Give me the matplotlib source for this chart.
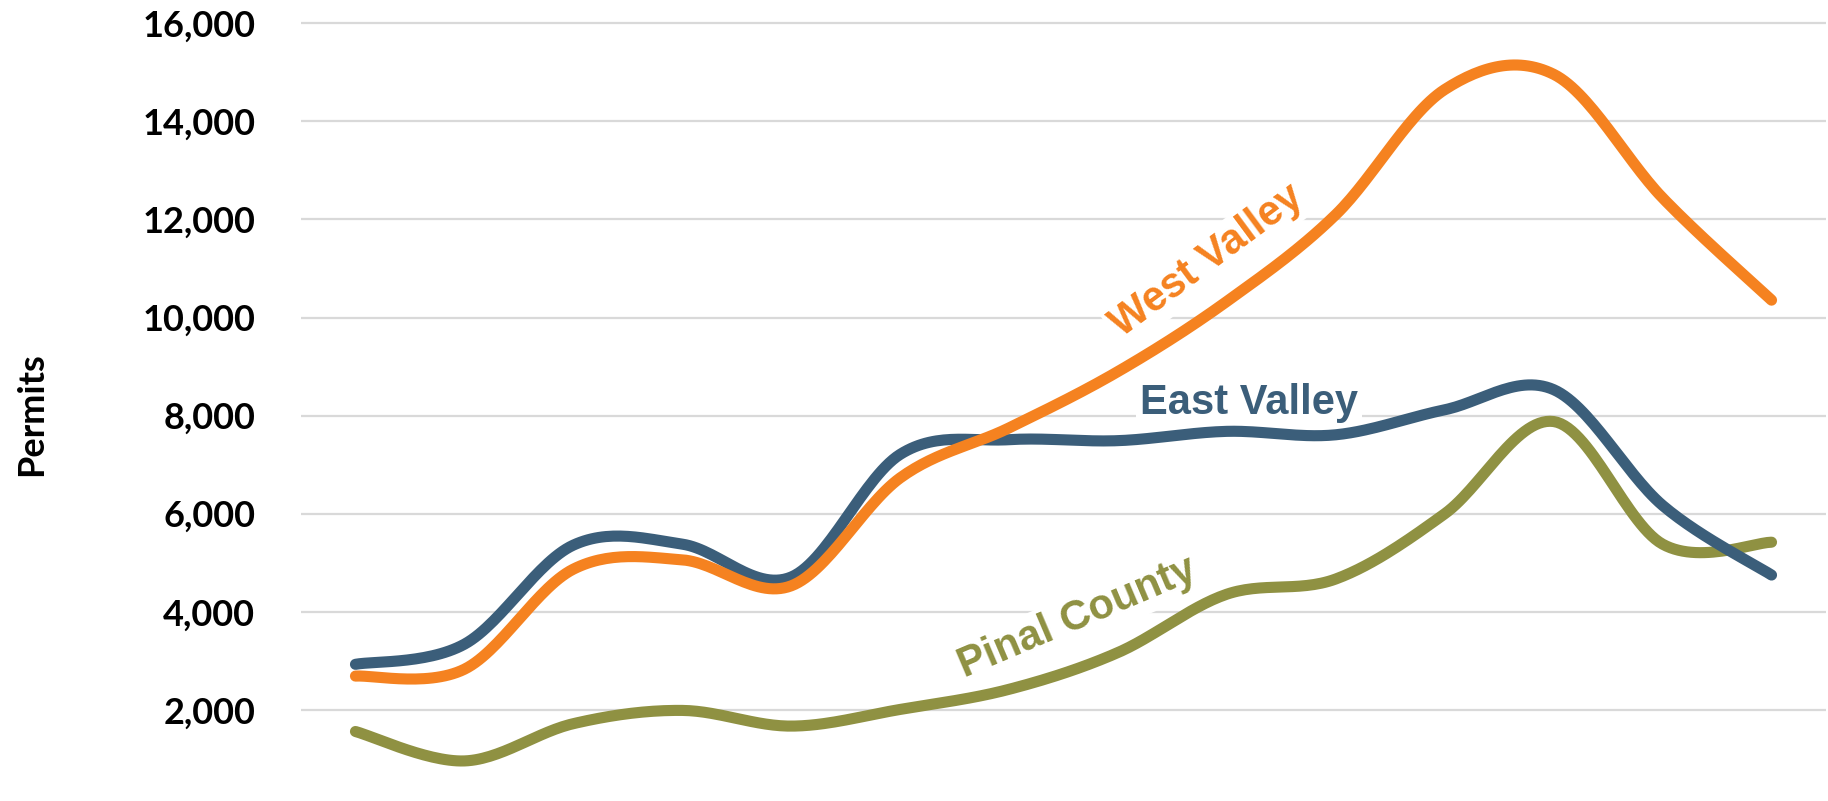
import numpy as np
import matplotlib
matplotlib.use("Agg")
import matplotlib.pyplot as plt
from matplotlib.ticker import FuncFormatter

# building permits by region (no x labels shown)
east_valley = [2930, 3340, 5360, 5380, 4710, 7210, 7510, 7490, 7680, 7610, 8120, 8530, 6170, 4750]
west_valley = [2690, 2830, 4870, 5060, 4530, 6730, 7750, 8900, 10330, 12100, 14650, 14960, 12440, 10355]
pinal_county = [1560, 960, 1720, 1990, 1670, 2010, 2420, 3170, 4360, 4670, 6000, 7880, 5380, 5420]

y_ticks = [2000, 4000, 6000, 8000, 10000, 12000, 14000, 16000]

BLUE = "#3b5e7a"
ORANGE = "#f58220"
OLIVE = "#8f9142"
GRID = "#d9d9d9"


def smooth(y, n=30):
    """Excel-style smoothed line (Catmull-Rom bezier through every point)."""
    y = np.asarray(y, dtype=float)
    x = np.arange(len(y), dtype=float)
    pts = np.column_stack([x, y])
    ext = np.vstack([pts[0], pts, pts[-1]])
    out = []
    for i in range(len(pts) - 1):
        p0, p1, p2, p3 = ext[i], ext[i + 1], ext[i + 2], ext[i + 3]
        c1 = p1 + (p2 - p0) / 6.0
        c2 = p2 - (p3 - p1) / 6.0
        t = np.linspace(0, 1, n, endpoint=(i == len(pts) - 2))[:, None]
        seg = ((1 - t) ** 3) * p1 + 3 * ((1 - t) ** 2) * t * c1 + 3 * (1 - t) * t ** 2 * c2 + t ** 3 * p2
        out.append(seg)
    out = np.vstack(out)
    return out[:, 0], out[:, 1]


fig = plt.figure(figsize=(18.28, 8.01), dpi=100)
ax = fig.add_axes([301 / 1828, 0.0, 1 - 301 / 1828 - 2 / 1828, 1.0])

for data, color in [(pinal_county, OLIVE), (east_valley, BLUE), (west_valley, ORANGE)]:
    xs, ys = smooth(data)
    ax.plot(xs, ys, color=color, lw=8, solid_capstyle="round", zorder=3)

ax.set_xlim(-0.5, len(east_valley) - 0.5)
ax.set_ylim(143, 16475)
ax.set_yticks(y_ticks)
ax.yaxis.set_major_formatter(FuncFormatter(lambda v, p: f"{int(v):,}"))
ax.set_xticks([])
ax.grid(axis="y", color=GRID, lw=1.6, zorder=0)
ax.set_axisbelow(True)
ax.tick_params(axis="y", length=0, pad=33, labelsize=26)
for lab in ax.get_yticklabels():
    lab.set_fontweight("bold")
    lab.set_fontfamily("Lato")
for s in ax.spines.values():
    s.set_visible(False)

fig.text(32 / 1828, 1 - 414 / 801, "Permits", rotation=90, ha="center", va="center",
         fontsize=26, fontweight="bold", family="Lato")

box = dict(facecolor="white", edgecolor="none", pad=3)
lbl = dict(fontsize=30, fontweight="bold", family="Liberation Sans", ha="center",
           rotation_mode="anchor", bbox=box, zorder=2)
ax.text(8.2, 8030, "East Valley", color=BLUE, va="baseline", **lbl)
ax.text(7.82, 11145, "West Valley", color=ORANGE, rotation=36.5, va="center", **lbl)
ax.text(6.63, 3874, "Pinal County", color=OLIVE, rotation=23, va="center", **lbl)

fig.savefig("out.png", dpi=100, facecolor="white")
